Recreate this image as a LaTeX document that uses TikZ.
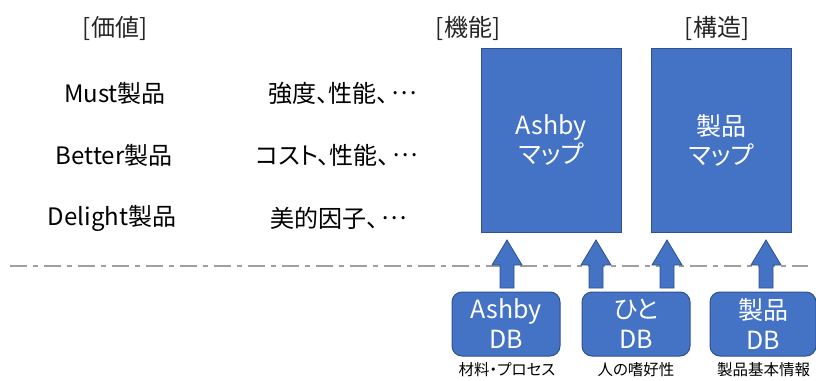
\documentclass[tikz,border=0pt]{standalone}
\usepackage{fontspec}
\setmainfont{Noto Sans CJK JP}[RawFeature=+palt]
\newfontfamily\fw{Noto Sans CJK JP}
\newcommand{\dotsjp}{\hspace{3pt}\raisebox{0.33em}{\fw ⋯}}
\begin{document}
\begin{tikzpicture}[x=1pt,y=-1pt,
  txt/.style={font=\fontsize{24}{28}\selectfont, text=black, inner sep=0},
  head/.style={font=\fontsize{24}{28}\selectfont, text=black!85, inner sep=0},
  mapbox/.style={draw=blue2, line width=1pt, fill=blue1, minimum width=140pt, minimum height=184pt, text=white, align=center, font=\fontsize{25}{29}\selectfont, inner sep=0},
  dbbox/.style={draw=blue2, line width=1pt, fill=blue1, rounded corners=10pt, text=white, align=center, font=\fontsize{25}{30}\selectfont, inner sep=0},
  small/.style={font=\fontsize{15.5}{17}\selectfont, text=black, inner sep=0},
  arrowstyle/.style={draw=blue2, line width=0.8pt, fill=blue1},
  uparrow/.pic={\draw[arrowstyle] (-7,24) -- (-7,1) -- (-15,1) -- (0,-24) -- (15,1) -- (7,1) -- (7,24) -- cycle;}
]
\definecolor{blue1}{HTML}{4472C4}
\definecolor{blue2}{HTML}{2F528F}
\useasboundingbox (0,0) rectangle (816,380);
\fill[white] (0,0) rectangle (816,380);

\node[head] (h1) at (115,28) {[価値]};
\node[head] (h2) at (468,28) {[機能]};
\node[head] (h3) at (717,28) {[構造]};

\node[txt] (v1) at (115,93) {Must製品};
\node[txt] (v2) at (114,155) {Better製品};
\node[txt] (v3) at (112,218) {Delight製品};

\node[txt] (f1) at (343,93) {強度、性能、\dotsjp};
\node[txt] (f2) at (337,155) {コスト、性能、\dotsjp};
\node[txt] (f3) at (339,218) {美的因子、\dotsjp};

\node[mapbox] (am) at (551,140) {Ashby\\マップ};
\node[mapbox] (pm) at (721,140) {製品\\マップ};

\coordinate (l1) at (10,266);
\coordinate (l2) at (808,266);
\draw[gray!75, line width=1.6pt, dash pattern=on 17pt off 6pt on 5pt off 6pt] (l1) -- (l2);

\node[dbbox, minimum width=108pt, minimum height=64pt] (adb) at (506,324) {Ashby\\DB};
\node[dbbox, minimum width=108pt, minimum height=64pt] (hdb) at (636,324) {ひと\\DB};
\node[dbbox, minimum width=106pt, minimum height=64pt] (pdb) at (763,324) {製品\\DB};

\node[small] (s1) at (507,370) {材料・プロセス};
\node[small] (s2) at (636,370) {人の嗜好性};
\node[small, anchor=west] (s3) at (717,370) {製品基本情報};

\pic at (507,264) {uparrow};
\pic at (596,264) {uparrow};
\pic at (667,264) {uparrow};
\pic at (766,264) {uparrow};
\end{tikzpicture}
\end{document}
